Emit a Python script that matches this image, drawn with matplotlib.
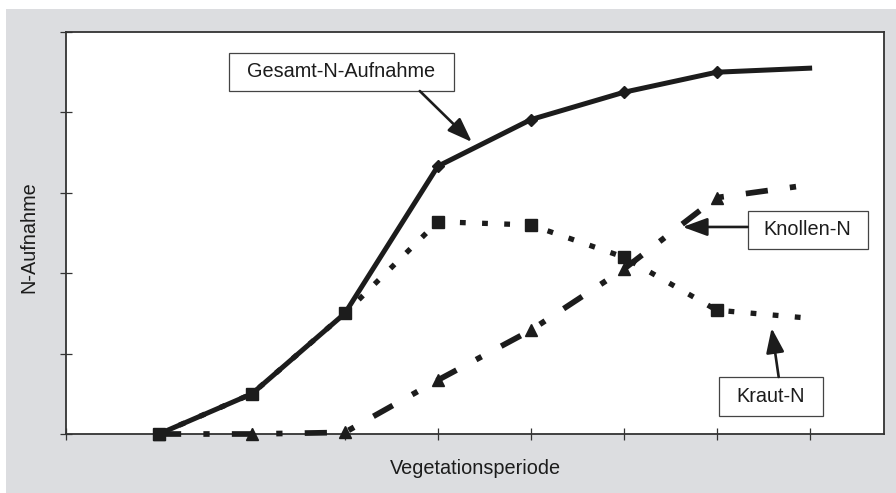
import matplotlib
matplotlib.use('Agg')
import matplotlib.pyplot as plt
from matplotlib import font_manager
from matplotlib.patches import Rectangle

# data (8 Zeitpunkte in der Vegetationsperiode)
periode = [1, 2, 3, 4, 5, 6, 7, 8]
gesamt_n = [0, 5.0, 15.0, 33.3, 39.1, 42.5, 45.0, 45.5]
kraut_n = [0, 5.0, 15.0, 26.4, 26.0, 22.0, 15.4, 14.4]
knollen_n = [0, 0, 0.2, 6.7, 12.9, 20.5, 29.4, 31.0]

names = {f.name for f in font_manager.fontManager.ttflist}
if 'Liberation Sans Narrow' in names:
    fam, fs = 'Liberation Sans Narrow', 17
else:
    fam, fs = 'Liberation Sans', 14.3
plt.rcParams['font.family'] = [fam, 'DejaVu Sans']

ink = '#1c1c1c'
fig = plt.figure(figsize=(8.96, 4.93), dpi=100)
fig.patch.set_facecolor('white')
fig.add_artist(Rectangle((6 / 896, 0), 890 / 896, 1 - 9 / 493,
                         transform=fig.transFigure, facecolor='#dcdde0',
                         edgecolor='none', zorder=0))
ax = fig.add_axes([66 / 896, 59 / 493, 818 / 896, 402 / 493])
ax.set_facecolor('white')

ax.plot(periode, gesamt_n, color=ink, lw=3.6, marker='D', ms=6,
        markevery=list(range(7)), clip_on=False, zorder=3)
ax.plot(periode, kraut_n, color=ink, lw=3.8, linestyle=(0, (1.1, 3.1)),
        dash_capstyle='butt', marker='s', ms=8, markevery=list(range(7)),
        clip_on=False, zorder=4)
ax.plot(periode, knollen_n, color=ink, lw=4.1, linestyle=(0, (3.9, 3.9, 1.1, 3.9)),
        dash_capstyle='butt', marker='^', ms=9, markevery=list(range(7)),
        clip_on=False, zorder=5)

ax.set_xlim(0, 8.8)
ax.set_ylim(0, 50)
ax.set_xticks(range(0, 9))
ax.set_yticks(range(0, 51, 10))
ax.set_xticklabels([])
ax.set_yticklabels([])
ax.tick_params(direction='inout', length=8, width=0.9, color='#333333')
for s in ax.spines.values():
    s.set_color('#333333')
    s.set_linewidth(1.3)

ax.set_xlabel('Vegetationsperiode', fontsize=fs, color=ink, va='center')
ax.xaxis.set_label_coords(0.5, -0.0846)
ax.set_ylabel('N-Aufnahme', fontsize=fs, color=ink, va='center')
ax.yaxis.set_label_coords(-0.0452, 0.49)

# Beschriftungen mit Pfeilen
labels = [
    ('Gesamt-N-Aufnahme', (1.753, 42.66, 2.419, 4.73), (3.806, 42.66), (4.366, 36.32)),
    ('Knollen-N', (7.333, 23.01, 1.291, 4.73), (7.333, 25.75), (6.634, 25.75)),
    ('Kraut-N', (7.022, 2.24, 1.118, 4.85), (7.667, 7.09), (7.591, 13.18)),
]
for txt, (x0, y0, w, h), start, tip in labels:
    ax.add_patch(Rectangle((x0, y0), w, h, facecolor='white', edgecolor='#444444',
                           lw=0.9, zorder=6, clip_on=False))
    ax.text(x0 + w / 2, y0 + h / 2, txt, ha='center', va='center', fontsize=fs,
            color=ink, zorder=7)
    ax.annotate('', xy=tip, xytext=start, zorder=7,
                arrowprops=dict(arrowstyle='-|>,head_length=1.5,head_width=0.55',
                                mutation_scale=10, lw=1.9, color=ink,
                                shrinkA=0, shrinkB=0))

fig.savefig('out.png', dpi=100, facecolor=fig.get_facecolor())
